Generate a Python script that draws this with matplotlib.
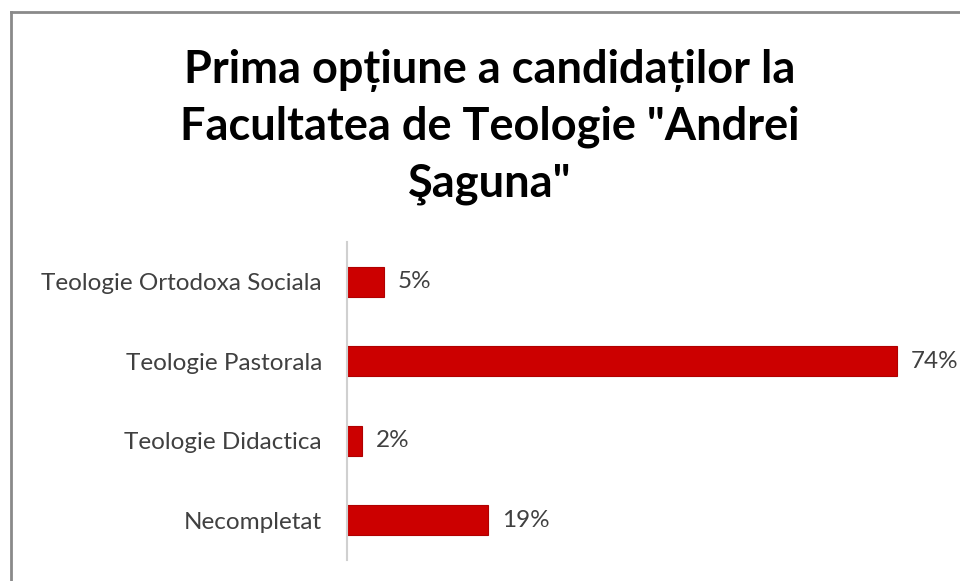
import matplotlib.pyplot as plt
from matplotlib.lines import Line2D

categories = ['Teologie Ortodoxa Sociala', 'Teologie Pastorala',
              'Teologie Didactica', 'Necompletat']
values = [5, 74, 2, 19]
value_labels = ['5%', '74%', '2%', '19%']
title = 'Prima opțiune a candidaților la\nFacultatea de Teologie "Andrei\nŞaguna"'

plt.rcParams['font.family'] = ['Lato', 'DejaVu Sans']

fig = plt.figure(figsize=(9.6, 5.81), dpi=100)
ax = fig.add_axes([347 / 960, 1 - 560 / 581, 594.6 / 960, 318 / 581])

ypos = list(range(len(categories)))
ax.barh(ypos, values, height=0.38, color='#cc0000', edgecolor='#b00000', linewidth=0.8)
ax.set_xlim(0, 80)
ax.set_ylim(len(categories) - 0.5, -0.5)
ax.set_yticks(ypos)
ax.set_yticklabels(categories, fontsize=17.5, color='#404040')
ax.tick_params(axis='y', length=0, pad=18)
ax.set_xticks([])
for s in ['top', 'right', 'bottom']:
    ax.spines[s].set_visible(False)
ax.spines['left'].set_color('#d0d0d0')
ax.spines['left'].set_linewidth(1.5)

for y, v, lab in zip(ypos, values, value_labels):
    ax.annotate(lab, (v, y), xytext=(10, 0), textcoords='offset points',
                va='center', ha='left', fontsize=17.5, color='#404040',
                annotation_clip=False)

fig.text(0.51, 1 - 127 / 581, title, ha='center', va='center',
         fontsize=32.5, fontweight='bold', color='black', linespacing=1.42)

# chart frame (left and top edges visible)
fig.add_artist(Line2D([11 / 960, 11 / 960], [0, 1 - 12 / 581],
                      transform=fig.transFigure, color='#8a8a8a', lw=2))
fig.add_artist(Line2D([11 / 960, 1], [1 - 12 / 581, 1 - 12 / 581],
                      transform=fig.transFigure, color='#8a8a8a', lw=2))

fig.savefig('out.png', dpi=100)
